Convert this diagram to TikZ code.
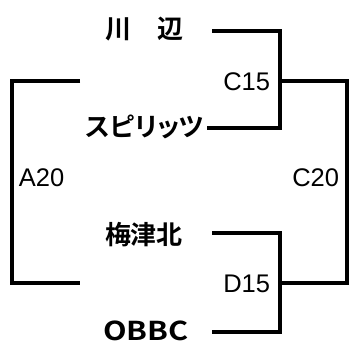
\documentclass[tikz,border=0pt]{standalone}
\usepackage{fontspec}
\setmainfont{Liberation Sans}
\newfontfamily\jpfont{Noto Sans CJK JP Bold}
\newfontfamily\kanafont{Noto Sans CJK JP Bold}[RawFeature=+palt]
\newfontfamily\widefont{Noto Sans CJK JP Bold}[FakeStretch=1.18]
\begin{document}
\begin{tikzpicture}[x=1pt,y=-1pt,line width=3.2pt,
    team/.style={font=\jpfont\fontsize{26}{26}\selectfont,inner sep=0pt},
    score/.style={font=\fontsize{25.5}{25.5}\selectfont}]
  \useasboundingbox (0,0) rectangle (349,347);

  % teams
  \node[team] (kawabe) at (145,29) {川　辺};
  \node[team,font=\kanafont\fontsize{26}{26}\selectfont,anchor=east] (spirits) at (206,127) {スピリッツ};
  \node[team] (umezu) at (144,235) {梅津北};
  \node[team,font=\widefont\fontsize{26}{26}\selectfont] (obbc) at (146,331) {OBBC};

  % line ends and junctions
  \coordinate (kawabe-e) at (212,31);
  \coordinate (spirits-e) at (207,128);
  \coordinate (umezu-e) at (212,233);
  \coordinate (obbc-e) at (212,332);
  \coordinate (jc) at (280,81);
  \coordinate (jd) at (280,283);
  \coordinate (rt) at (347,81);
  \coordinate (lt) at (80,81);
  \coordinate (lb) at (80,283);

  \draw (kawabe-e) -| (jc) |- (spirits-e);
  \draw (umezu-e) -| (jd) |- (obbc-e);
  \draw (jc) -- (rt) |- (jd);
  \draw (lt) -- ++(-68,0) |- (lb);

  % game labels
  \node[score,anchor=east] (c15) at (275,82) {C15};
  \node[score,anchor=east] (d15) at (275,284) {D15};
  \node[score,anchor=west] (a20) at (14,178) {A20};
  \node[score,anchor=east] (c20) at (344,178) {C20};
\end{tikzpicture}
\end{document}
